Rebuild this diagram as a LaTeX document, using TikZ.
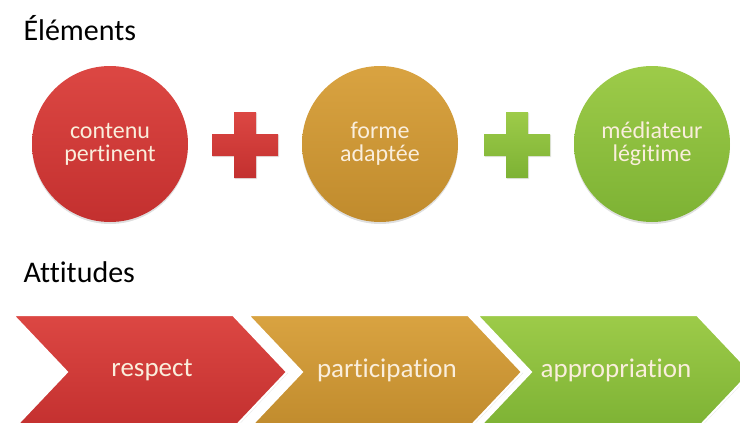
\documentclass[tikz,border=0pt]{standalone}
\usepackage{fontspec}
\setmainfont[Ligatures=NoCommon]{Carlito}
\usetikzlibrary{shadows}

\definecolor{rougeA}{HTML}{DC4743}
\definecolor{rougeB}{HTML}{C3302F}
\definecolor{orA}{HTML}{D9A341}
\definecolor{orB}{HTML}{C08B2D}
\definecolor{vertA}{HTML}{9DCB49}
\definecolor{vertB}{HTML}{7DB234}
\definecolor{creme}{HTML}{FAEEDC}

\begin{document}
\begin{tikzpicture}[x=1pt, y=-1pt,
  titre/.style={anchor=base west, font=\fontsize{30}{36}\selectfont},
  bulle/.style={circle, minimum size=156pt, inner sep=0pt, align=center, text=creme,
    font=\fontsize{24}{23}\selectfont,
    drop shadow={opacity=0.25, shadow xshift=0pt, shadow yshift=-2pt}},
  croix/.style={draw=none, drop shadow={opacity=0.2, shadow xshift=1pt, shadow yshift=-1pt}},
  fleche/.style={draw=white, line width=2pt, line join=miter,
    drop shadow={opacity=0.2, shadow xshift=1pt, shadow yshift=-1pt}},
  etiquette/.style={text=creme, font=\fontsize{27}{32}\selectfont}]
\useasboundingbox (0,0) rectangle (740,423);

% titres
\node[titre] (elements) at (20,41) {Éléments};
\node[titre] (attitudes) at (20,282) {Attitudes};

% les trois elements
\node[bulle, top color=rougeA, bottom color=rougeB] (contenu) at (110,144) {contenu\\pertinent};
\node[bulle, top color=orA, bottom color=orB] (forme) at (380,144) {forme\\adaptée};
\node[bulle, top color=vertA, bottom color=vertB] (mediateur) at (652,144) {médiateur\\légitime};

% signes plus
\coordinate (plusA) at (245,145);
\coordinate (plusB) at (517,145);
\draw[croix, top color=rougeA, bottom color=rougeB] (plusA) ++(-11,-33) -- ++(22,0) -- ++(0,22) -- ++(22,0)
  -- ++(0,22) -- ++(-22,0) -- ++(0,22) -- ++(-22,0) -- ++(0,-22) -- ++(-22,0) -- ++(0,-22) -- ++(22,0) -- cycle;
\draw[croix, top color=vertA, bottom color=vertB] (plusB) ++(-11,-33) -- ++(22,0) -- ++(0,22) -- ++(22,0)
  -- ++(0,22) -- ++(-22,0) -- ++(0,22) -- ++(-22,0) -- ++(0,-22) -- ++(-22,0) -- ++(0,-22) -- ++(22,0) -- cycle;

% les attitudes en chevrons
\foreach \x/\ca/\cb/\nom/\texte in {13/rougeA/rougeB/respect/respect,
    248/orA/orB/participation/participation,
    477/vertA/vertB/appropriation/appropriation}{
  \draw[fleche, top color=\ca, bottom color=\cb] (\x,315) -- (\x+220,315) -- (\x+274,372)
    -- (\x+220,429) -- (\x,429) -- (\x+54,372) -- cycle;
  \node[etiquette] (\nom) at (\x+139,370) {\texte};
}

\end{tikzpicture}
\end{document}
